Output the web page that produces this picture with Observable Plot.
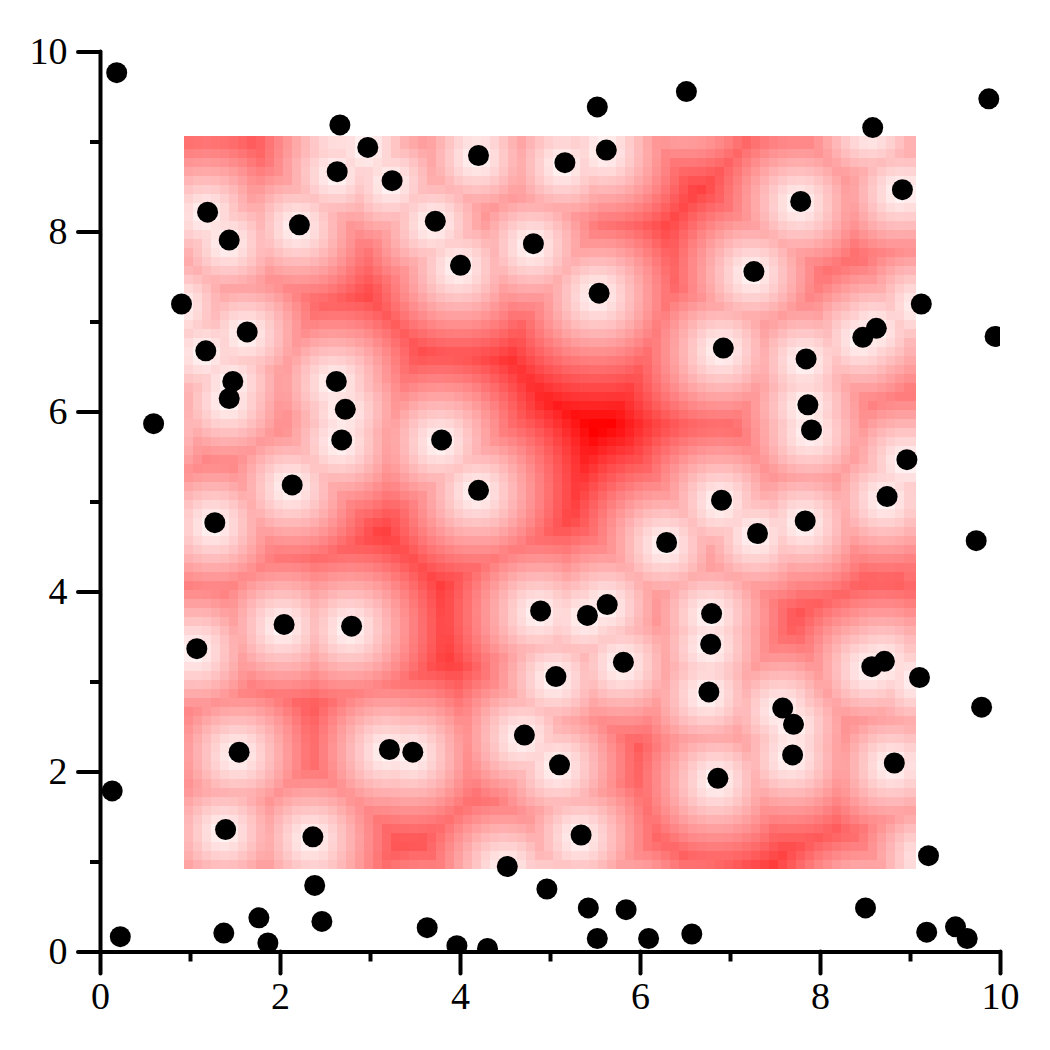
<!DOCTYPE html>
<html>
<head>
<meta charset="utf-8">
<script src="https://cdn.jsdelivr.net/npm/d3@7"></script>
<script src="https://cdn.jsdelivr.net/npm/@observablehq/plot@0.6"></script>
<style>
html,body{margin:0;padding:0;background:#fff}
svg{display:block}
</style>
</head>
<body>
<div id="chart"></div>
<script>
// Point positions.
const pointX = [0.18,2.66,2.97,6.51,5.52,9.87,8.58,5.62,4.2,5.16,2.63,3.24,8.91,7.78,1.19,2.21,3.72,1.43,4.81,4.0,7.26,0.9,9.12,5.54,1.63,8.62,8.47,9.94,6.92,1.17,7.84,2.62,1.47,1.43,7.86,2.72,0.59,7.9,2.68,3.79,8.96,2.13,4.2,8.74,6.9,1.27,7.83,7.3,6.29,9.73,6.79,5.63,5.41,4.89,2.04,2.79,1.07,6.78,5.81,8.57,8.71,5.06,9.1,6.76,9.79,7.58,7.7,4.71,3.21,3.47,1.54,7.69,5.1,8.82,6.86,0.13,5.34,1.39,2.36,9.2,4.52,2.38,4.96,1.76,2.46,5.42,5.84,8.5,0.22,1.37,1.86,3.63,3.96,4.3,5.52,6.09,6.57,9.18,9.5,9.63];
const pointY = [9.77,9.19,8.94,9.56,9.39,9.48,9.16,8.91,8.85,8.77,8.67,8.57,8.47,8.34,8.22,8.08,8.12,7.91,7.87,7.63,7.56,7.2,7.2,7.32,6.89,6.93,6.83,6.84,6.71,6.68,6.59,6.34,6.34,6.15,6.08,6.03,5.87,5.8,5.69,5.69,5.47,5.19,5.13,5.06,5.02,4.77,4.79,4.65,4.55,4.57,3.76,3.86,3.74,3.79,3.64,3.62,3.37,3.42,3.22,3.17,3.23,3.06,3.05,2.89,2.72,2.71,2.53,2.41,2.25,2.22,2.22,2.19,2.08,2.1,1.93,1.79,1.30,1.36,1.28,1.07,0.95,0.74,0.70,0.38,0.34,0.49,0.47,0.49,0.17,0.21,0.10,0.27,0.07,0.04,0.15,0.15,0.20,0.22,0.28,0.15];
const majorTicks = [0,2,4,6,8,10];
const minorTicks = [1,3,5,7,9];
const domain = [0,10];

// Background field: each cell shows its distance to the nearest point above,
// sampled on a 0.1 grid from 1 to 9.
const gridNodes = d3.range(81).map(k=>1+k*0.1);
const P = 2.2;
const cells = [];
for (const [j,gy] of gridNodes.entries()) for (const [i,gx] of gridNodes.entries()) {
  cells.push({
    x1:gx-0.0667, x2:i===80?9.0667:gx+0.0333,
    y1:gy-0.0833, y2:j===80?9.0617:gy+0.0167,
    d:d3.min(pointX,(px,k)=>(Math.abs(px-gx)**P+Math.abs(pointY[k]-gy)**P)**(1/P))
  });
}
const fieldMax = d3.max(cells,c=>c.d);

const font = "'Liberation Serif','Times New Roman',serif";
const chart = Plot.plot({
  width:1050,height:1050,
  marginLeft:100,marginRight:50,marginTop:51.5,marginBottom:98.5,
  style:{background:"#fff",fontFamily:font},
  x:{domain,axis:null},
  y:{domain,axis:null},
  color:{type:"linear",domain:[0,fieldMax],range:["#ffffff","#ff0000"]},
  marks:[
    Plot.rect(cells,{x1:"x1",x2:"x2",y1:"y1",y2:"y2",fill:"d",shapeRendering:"crispEdges"}),
    Plot.dot(pointX,{x:d=>d,y:(d,i)=>pointY[i],r:10.5,fill:"#000",stroke:null,clip:true}),
    Plot.axisX({ticks:majorTicks,tickSize:22,tickPadding:8,fontSize:38,strokeWidth:4,strokeLinecap:"round",fontFamily:font,fill:"#000",label:null,tickFormat:d=>String(d)}),
    Plot.axisX({ticks:minorTicks,tickSize:10,fill:"none",strokeWidth:4,label:null}),
    Plot.axisY({ticks:majorTicks,tickSize:22,tickPadding:11,fontSize:38,strokeWidth:4,strokeLinecap:"round",fontFamily:font,fill:"#000",label:null,tickFormat:d=>String(d)}),
    Plot.axisY({ticks:minorTicks,tickSize:10,fill:"none",strokeWidth:4,label:null}),
    Plot.ruleY([0],{strokeWidth:4,stroke:"#000",strokeLinecap:"round"}),
    Plot.ruleX([0],{strokeWidth:4,stroke:"#000",strokeLinecap:"round"})
  ]
});
document.getElementById("chart").appendChild(chart);
</script>
</body>
</html>
